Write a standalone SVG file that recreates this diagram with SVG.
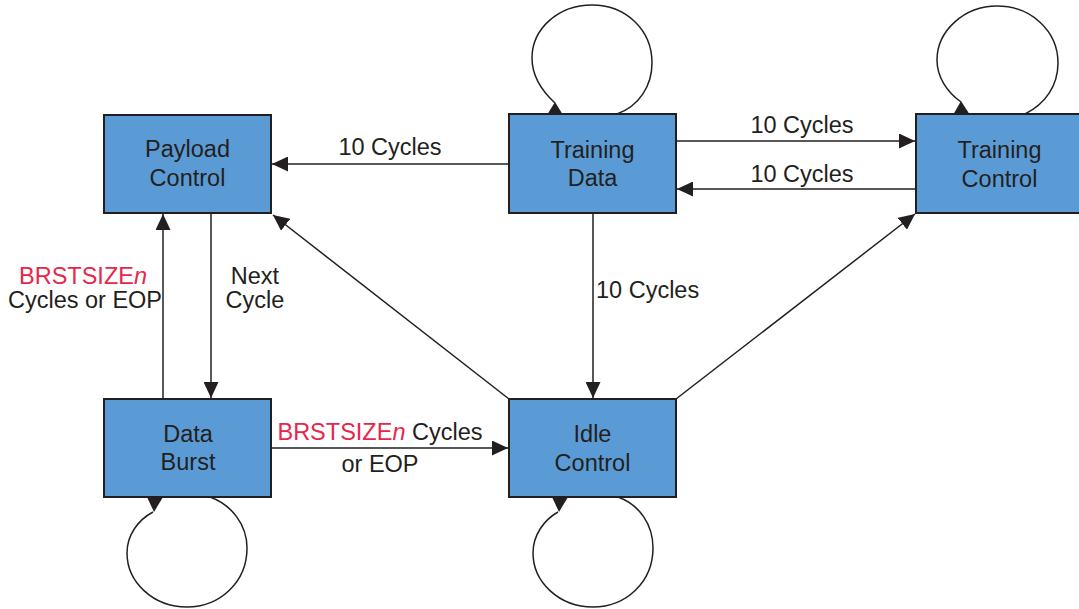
<svg xmlns="http://www.w3.org/2000/svg" width="1079" height="609" viewBox="0 0 1079 609">
<defs>
<style>
.box{fill:#5b9bd5;stroke:#231f20;stroke-width:2}
.lbl{font-family:"Liberation Sans",Arial,Helvetica,sans-serif;font-size:23.5px;fill:#231f20}
.mid{text-anchor:middle}
.red{fill:#e8264b}
.ln{fill:none;stroke:#231f20;stroke-width:1.5}
.ah{fill:#231f20}
</style>
<marker id="arr" markerUnits="userSpaceOnUse" markerWidth="16" markerHeight="15" viewBox="0 0 16 15" refX="16" refY="7.5" orient="auto">
<path d="M0,0 L16,7.5 L0,15 Z" fill="#231f20"/>
</marker>
</defs>
<rect width="1079" height="609" fill="#ffffff"/>
<g id="connectors">
<line class="ln" x1="509" y1="164" x2="272" y2="164" marker-end="url(#arr)"/>
<text class="lbl mid" x="390" y="155">10 Cycles</text>
<line class="ln" x1="676" y1="141" x2="915" y2="141" marker-end="url(#arr)"/>
<text class="lbl mid" x="802" y="133">10 Cycles</text>
<line class="ln" x1="916" y1="189" x2="677" y2="189" marker-end="url(#arr)"/>
<text class="lbl mid" x="802" y="182">10 Cycles</text>
<line class="ln" x1="593" y1="213" x2="593" y2="398" marker-end="url(#arr)"/>
<text class="lbl" x="596" y="298">10 Cycles</text>
<line class="ln" x1="211" y1="213" x2="211" y2="398" marker-end="url(#arr)"/>
<text class="lbl mid" x="255" y="284">Next</text>
<text class="lbl mid" x="255" y="308">Cycle</text>
<line class="ln" x1="163" y1="399" x2="163" y2="214" marker-end="url(#arr)"/>
<text class="lbl mid red" x="83" y="284">BRSTSIZE<tspan font-style="italic">n</tspan></text>
<text class="lbl mid" x="85" y="308">Cycles or EOP</text>
<line class="ln" x1="271" y1="448" x2="508" y2="448" marker-end="url(#arr)"/>
<text class="lbl mid" x="380" y="440"><tspan class="red">BRSTSIZE<tspan font-style="italic">n</tspan></tspan> Cycles</text>
<text class="lbl mid" x="380" y="472">or EOP</text>
<line class="ln" x1="509" y1="399" x2="273" y2="215" marker-end="url(#arr)"/>
<line class="ln" x1="676" y1="399" x2="915" y2="214" marker-end="url(#arr)"/>
<path class="ln" d="M617,114 C639,106 652,86 652,63 C652,29 625,5 592,5 C558,5 532,29 532,58 C532,76 543,92 555,103"/>
<polygon class="ah" points="555,102 547,115 563,115"/>
<path class="ln" d="M1025,114 C1045,104 1058,86 1058,63 C1058,31 1031,6 997,6 C964,6 937,31 937,60 C937,77 947,92 961,102"/>
<polygon class="ah" points="961,101 953,115 970,115"/>
<path class="ln" d="M210,497 C232,505 247,525 247,548 C247,582 220,607 187,607 C153,607 127,582 127,553 C127,535 138,520 153,512"/>
<polygon class="ah" points="147,497 163,497 154,512"/>
<path class="ln" d="M618,497 C640,505 653,525 653,548 C653,582 626,607 593,607 C559,607 533,582 533,553 C533,535 544,520 558,512"/>
<polygon class="ah" points="552,497 568,497 559,512"/>
</g>
<g id="payload-control">
<rect class="box" x="104" y="115" width="167" height="98"/>
<text class="lbl mid" x="187.5" y="157">Payload</text>
<text class="lbl mid" x="187.5" y="186">Control</text>
</g>
<g id="training-data">
<rect class="box" x="509" y="114" width="167" height="99"/>
<text class="lbl mid" x="592.5" y="158">Training</text>
<text class="lbl mid" x="592.5" y="186">Data</text>
</g>
<g id="training-control">
<rect class="box" x="916" y="114" width="167" height="99"/>
<text class="lbl mid" x="999.5" y="158">Training</text>
<text class="lbl mid" x="999.5" y="187">Control</text>
</g>
<g id="data-burst">
<rect class="box" x="104" y="399" width="167" height="98"/>
<text class="lbl mid" x="188" y="442">Data</text>
<text class="lbl mid" x="188" y="470">Burst</text>
</g>
<g id="idle-control">
<rect class="box" x="509" y="399" width="167" height="98"/>
<text class="lbl mid" x="592.5" y="442">Idle</text>
<text class="lbl mid" x="592.5" y="471">Control</text>
</g>
</svg>
